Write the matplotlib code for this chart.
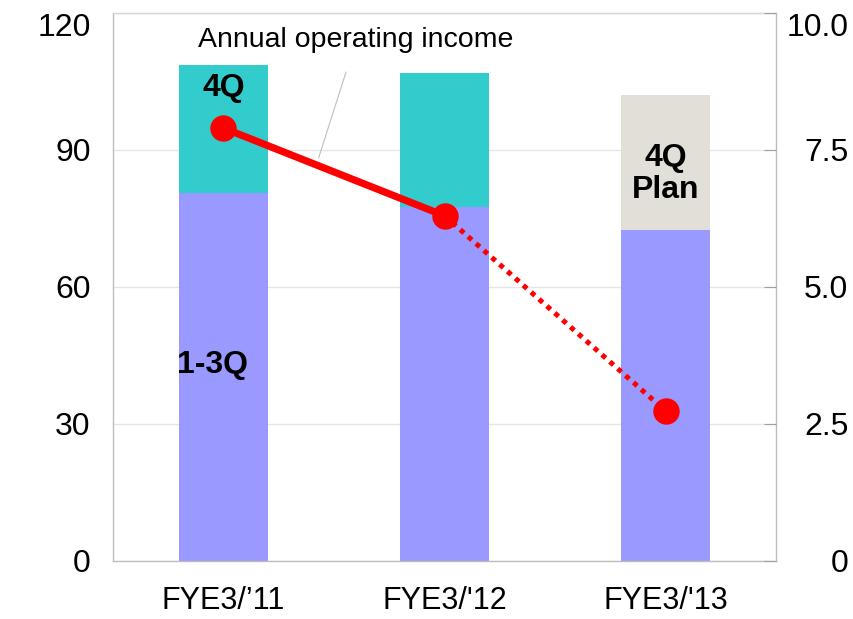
import matplotlib.pyplot as plt
import numpy as np

plt.rcParams["font.family"] = ["Liberation Sans", "DejaVu Sans"]

# data
categories = ["FYE3/\u201911", "FYE3/'12", "FYE3/'13"]
q1_3 = [80.6, 77.5, 72.5]          # 1-3Q, left axis
q4 = [28.0, 29.4, 29.5]            # 4Q (last one is plan), left axis
q4_is_plan = [False, False, True]
annual_income = [7.9, 6.3, 2.74]   # right axis
left_ticks = [0, 30, 60, 90, 120]
right_ticks = [0, 2.5, 5.0, 7.5, 10.0]
right_labels = ["0", "2.5", "5.0", "7.5", "10.0"]

c_base = "#9999FF"
c_q4 = "#33CCCC"
c_plan = "#E2DED8"
c_line = "#FF0000"
c_frame = "#BDBDBD"

fig = plt.figure(figsize=(8.54, 6.19), dpi=100)
ax = fig.add_axes([0.1323, 0.0937, 0.7764, 0.8853])

x = np.arange(len(categories))
width = 0.4
ax.bar(x, q1_3, width=width, color=c_base, zorder=2)
q4_colors = [c_plan if p else c_q4 for p in q4_is_plan]
ax.bar(x, q4, width=width, bottom=q1_3, color=q4_colors, zorder=2)

ax.set_xlim(-0.5, 2.5)
ax.set_ylim(0, 120)
ax.set_yticks(left_ticks)
ax.set_xticks(x)
ax.set_xticklabels(categories, fontsize=22)
ax.tick_params(axis="x", length=0, pad=18)
ax.tick_params(axis="y", length=0, pad=16, labelsize=23)
ax.set_axisbelow(True)
ax.yaxis.grid(True, color="#E6E6E6", linewidth=1.0)
for side in ["left", "right", "top", "bottom"]:
    ax.spines[side].set_color(c_frame)
    ax.spines[side].set_linewidth(1.0)
ax.spines["top"].set_color("#D6D6D6")
# top labels sit just below the frame, as in the original
ax.get_yticklabels()[-1].set_verticalalignment("top")

# bar labels
ax.text(0, 103.6, "4Q", ha="center", va="center", fontsize=23, fontweight="bold")
ax.text(-0.05, 42.9, "1-3Q", ha="center", va="center", fontsize=23, fontweight="bold")
ax.text(2, 84.8, "4Q\nPlan", ha="center", va="center", fontsize=23,
        fontweight="bold", linespacing=1.08)

# annotation for the line
ax.annotate(
    "Annual operating income",
    xy=(0.43, 88.2),
    xytext=(0.6, 114),
    ha="center",
    va="center",
    fontsize=20.5,
    arrowprops={"arrowstyle": "-", "color": "#BFBFBF", "linewidth": 0.8,
                "shrinkA": 12, "shrinkB": 0},
)

ax2 = ax.twinx()
ax2.set_ylim(0, 10)
ax2.set_yticks(right_ticks)
ax2.set_yticklabels(right_labels)
ax2.tick_params(axis="y", direction="in", length=9, color="#A0A0A0",
                labelsize=23, pad=52)
for label in ax2.get_yticklabels():
    label.set_horizontalalignment("right")
ax2.get_yticklabels()[-1].set_verticalalignment("top")
for side in ["left", "right", "top", "bottom"]:
    ax2.spines[side].set_visible(False)

# actual: solid, plan: dotted
ax2.plot(x[:2], annual_income[:2], color=c_line, linewidth=5.2,
         solid_capstyle="round", zorder=3)
ax2.plot(x[1:], annual_income[1:], color=c_line, linewidth=3.6,
         linestyle=(0, (1, 1.1)), zorder=3)
ax2.plot(x, annual_income, linestyle="none", marker="o", markersize=18,
         color=c_line, zorder=4)

fig.savefig("out.png", dpi=100)
